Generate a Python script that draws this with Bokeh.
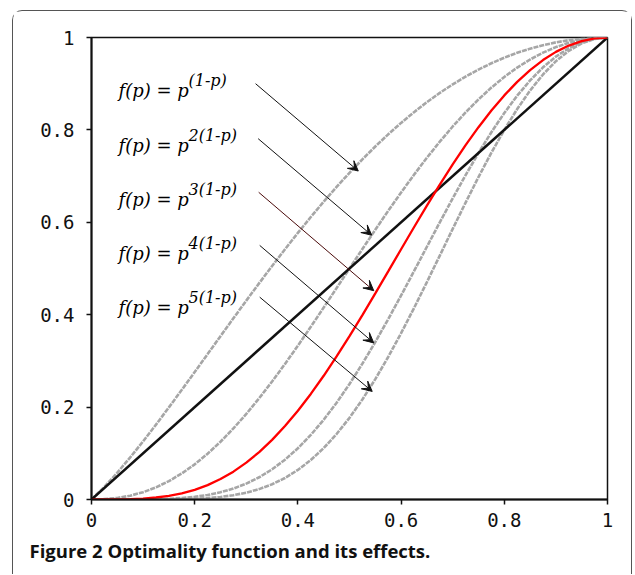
from bokeh.plotting import figure
from bokeh.models import Label, Arrow, VeeHead, FixedTicker, ColumnDataSource, Title
from bokeh.embed import file_html
from bokeh.resources import INLINE

# ---- data ----
p_vals = [0.0, 0.025, 0.05, 0.075, 0.10, 0.125, 0.15, 0.175, 0.20, 0.225, 0.25, 0.275, 0.30, 0.325,
          0.35, 0.375, 0.40, 0.425, 0.45, 0.475, 0.50, 0.525, 0.55, 0.575, 0.60, 0.625, 0.65,
          0.675, 0.70, 0.725, 0.75, 0.775, 0.80, 0.825, 0.85, 0.875, 0.90, 0.925, 0.95, 0.975, 1.0]
f_k1 = [0.0, 0.0274, 0.0581, 0.0911, 0.1259, 0.1621, 0.1994, 0.2374, 0.2759, 0.3147, 0.3536,
        0.3922, 0.4305, 0.4683, 0.5054, 0.5417, 0.5771, 0.6114, 0.6446, 0.6765, 0.7071, 0.7363,
        0.7641, 0.7904, 0.8152, 0.8384, 0.8601, 0.8801, 0.8985, 0.9154, 0.9306, 0.9443, 0.9564,
        0.9669, 0.9759, 0.9834, 0.9895, 0.9942, 0.9974, 0.9994, 1.0]
f_k2 = [0.0, 0.0008, 0.0034, 0.0083, 0.0158, 0.0263, 0.0398, 0.0564, 0.0761, 0.0991, 0.1250,
        0.1538, 0.1853, 0.2193, 0.2554, 0.2935, 0.3330, 0.3738, 0.4155, 0.4576, 0.5000, 0.5422,
        0.5839, 0.6248, 0.6645, 0.7029, 0.7397, 0.7745, 0.8074, 0.8379, 0.8660, 0.8916, 0.9146,
        0.9349, 0.9524, 0.9672, 0.9792, 0.9884, 0.9949, 0.9987, 1.0]
f_k3 = [0.0, 0.0000, 0.0002, 0.0008, 0.0020, 0.0043, 0.0079, 0.0134, 0.0210, 0.0312, 0.0442,
        0.0603, 0.0798, 0.1027, 0.1291, 0.1590, 0.1922, 0.2285, 0.2678, 0.3096, 0.3536, 0.3992,
        0.4462, 0.4938, 0.5417, 0.5893, 0.6362, 0.6817, 0.7254, 0.7670, 0.8059, 0.8419, 0.8747,
        0.9040, 0.9295, 0.9512, 0.9689, 0.9826, 0.9923, 0.9981, 1.0]
f_k4 = [0.0, 0.0000, 0.0000, 0.0001, 0.0003, 0.0007, 0.0016, 0.0032, 0.0058, 0.0098, 0.0156,
        0.0237, 0.0344, 0.0481, 0.0653, 0.0861, 0.1109, 0.1397, 0.1726, 0.2094, 0.2500, 0.2940,
        0.3409, 0.3903, 0.4416, 0.4941, 0.5471, 0.5999, 0.6518, 0.7021, 0.7500, 0.7950, 0.8365,
        0.8740, 0.9071, 0.9354, 0.9587, 0.9769, 0.9898, 0.9975, 1.0]
f_k5 = [0.0, 0.0000, 0.0000, 0.0000, 0.0000, 0.0001, 0.0003, 0.0008, 0.0016, 0.0031, 0.0055,
        0.0093, 0.0148, 0.0225, 0.0330, 0.0466, 0.0640, 0.0854, 0.1113, 0.1417, 0.1768, 0.2165,
        0.2605, 0.3085, 0.3600, 0.4143, 0.4706, 0.5280, 0.5857, 0.6427, 0.6980, 0.7507, 0.8000,
        0.8451, 0.8853, 0.9199, 0.9487, 0.9712, 0.9873, 0.9969, 1.0]
diag_x = [0.0, 1.0]
diag_y = [0.0, 1.0]

label_exps = ["(1-p)", "2(1-p)", "3(1-p)", "4(1-p)", "5(1-p)"]
label_main = "f(p) = p"
# arrow start/end points (data units)
arr_x0 = [0.318, 0.323, 0.324, 0.326, 0.326]
arr_y0 = [0.900, 0.781, 0.665, 0.550, 0.438]
arr_x1 = [0.517, 0.543, 0.547, 0.547, 0.544]
arr_y1 = [0.711, 0.572, 0.452, 0.339, 0.234]
arr_colors = ["#111111", "#111111", "#4a0a0a", "#111111", "#111111"]

tick_vals = [0, 0.2, 0.4, 0.6, 0.8, 1]
tick_text = ["0", "0.2", "0.4", "0.6", "0.8", "1"]

caption = "Figure 2 Optimality function and its effects."

# ---- figure ----
p = figure(width=620, height=564, x_range=(0, 1), y_range=(0, 1),
           output_backend="svg", toolbar_location=None,
           min_border_left=78, min_border_right=26, min_border_top=26, min_border_bottom=76)
p.margin = (10, 0, 0, 12)
p.styles = {"border": "1.5px solid #555555", "border-bottom": "none",
            "border-radius": "10px 10px 0 0"}
p.xgrid.visible = False
p.ygrid.visible = False
p.outline_line_color = "#111111"
p.outline_line_width = 1.5
p.background_fill_color = "white"
p.border_fill_color = "white"

for ax in (p.xaxis[0], p.yaxis[0]):
    ax.ticker = FixedTicker(ticks=tick_vals)
    ax.major_label_overrides = {v: t for v, t in zip(tick_vals, tick_text)}
    ax.minor_tick_line_color = None
    ax.axis_line_color = "#111111"
    ax.axis_line_width = 2
    ax.major_tick_line_color = "#111111"
    ax.major_tick_line_width = 1.5
    ax.major_tick_in = 0
    ax.major_tick_out = 5
    ax.major_label_text_font = "DejaVu Sans Mono"
    ax.major_label_text_font_size = "19px"
    ax.major_label_text_color = "#111111"
p.yaxis[0].major_label_standoff = 12
p.xaxis[0].major_label_standoff = 8

src = ColumnDataSource(dict(p=p_vals, k1=f_k1, k2=f_k2, k3=f_k3, k4=f_k4, k5=f_k5))
for col in ("k1", "k2", "k4", "k5"):
    p.line("p", col, source=src, line_color="#a6a6a6", line_width=2.6, line_dash="5 1")
p.line(diag_x, diag_y, line_color="#111111", line_width=2.5)
p.line("p", "k3", source=src, line_color="#ff0000", line_width=2.3)

for i in range(5):
    p.add_layout(Arrow(x_start=arr_x0[i], y_start=arr_y0[i], x_end=arr_x1[i], y_end=arr_y1[i],
                       line_color=arr_colors[i], line_width=1,
                       end=VeeHead(size=10, line_color="#111111", fill_color="#111111", line_width=1)))

row_y = [0.8853, 0.7662, 0.6494, 0.5325, 0.4156]
for i in range(5):
    p.add_layout(Label(x=0.0523, y=row_y[i], text=label_main, text_font="DejaVu Serif",
                       text_font_style="italic", text_font_size="18px", text_color="#000000",
                       text_baseline="alphabetic"))
    p.add_layout(Label(x=0.1880, y=row_y[i], y_offset=10, text=label_exps[i], text_font="DejaVu Serif",
                       text_font_style="italic", text_font_size="16px", text_color="#000000",
                       text_baseline="alphabetic"))

cap = Title(text=caption, align="left", offset=-62, standoff=13, text_font="Open Sans",
            text_font_style="bold", text_font_size="18.5px", text_color="#111111")
p.add_layout(cap, "below")

open("out.html", "w").write(file_html(p, INLINE))
